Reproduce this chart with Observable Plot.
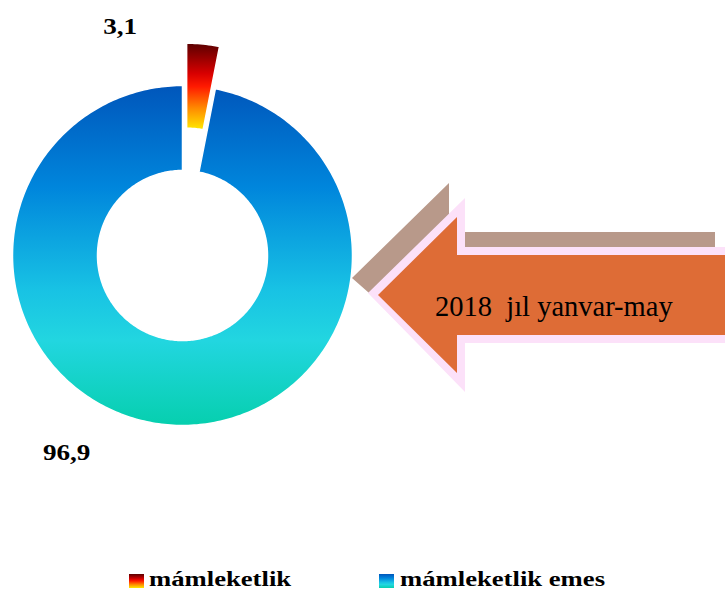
<!DOCTYPE html>
<html>
<head>
<meta charset="utf-8">
<script src="https://cdn.jsdelivr.net/npm/d3@7"></script>
<script src="https://cdn.jsdelivr.net/npm/@observablehq/plot@0.6"></script>
<style>
  body { margin: 0; background: #fff; }
  #wrap { position: relative; width: 725px; height: 590px; overflow: hidden; font-family: "Liberation Serif", "Times New Roman", serif; }
  #wrap > svg { display: block; }
  #arrow { position: absolute; left: 0; top: 0; pointer-events: none; }
</style>
</head>
<body>
<div id="wrap"></div>
<script>
// ---- data ----
const categories = ["mámleketlik", "mámleketlik emes"];
const values = [3.1, 96.9];
const valueLabels = ["3,1", "96,9"];
const periodLabel = "2018  jıl yanvar-may";

// ---- layout / style constants ----
const W = 725, H = 560, R = 170, CX = 182, CY = 255;
const innerRatio = 0.5;
const explode = [0.25, 0];
const gradRed = [[0, "#5a0000"], [0.35, "#d80000"], [0.5, "#ff1a00"], [0.75, "#ff8a00"], [1, "#ffea00"]];
const gradBlue = [[0, "#0056bb"], [0.3, "#0086dc"], [0.6, "#18c2e4"], [0.75, "#22d6e0"], [1, "#06cfae"]];
const gradIds = ["gRed", "gBlue"];
const grads = [gradRed, gradBlue];

// ---- pie layout from the data ----
const pie = d3.pie().sort(null).value(d => d)(values);
const pts = [];
const labelPts = [];
pie.forEach((p, i) => {
  const mid = (p.startAngle + p.endAngle) / 2;
  const ox = explode[i] * Math.sin(mid), oy = explode[i] * Math.cos(mid);
  const n = Math.max(6, Math.ceil((p.endAngle - p.startAngle) / (2 * Math.PI) * 360));
  for (let k = 0; k <= n; k++) {
    const a = p.startAngle + (p.endAngle - p.startAngle) * k / n;
    pts.push({slice: i, x: ox + Math.sin(a), y: oy + Math.cos(a)});
  }
  for (let k = n; k >= 0; k--) {
    const a = p.startAngle + (p.endAngle - p.startAngle) * k / n;
    pts.push({slice: i, x: ox + innerRatio * Math.sin(a), y: oy + innerRatio * Math.cos(a)});
  }
  labelPts.push({slice: i, x: ox + Math.sin(mid), y: oy + Math.cos(mid), text: valueLabels[i]});
});

function makeDefs(ids) {
  return () => {
    const defs = d3.create("svg:defs");
    grads.forEach((g, i) => {
      const lg = defs.append("linearGradient").attr("id", ids[i])
        .attr("x1", 0).attr("y1", 0).attr("x2", 0).attr("y2", 1);
      g.forEach(([o, c]) => lg.append("stop").attr("offset", o).attr("stop-color", c));
    });
    return defs.node();
  };
}

const labelFont = {fontFamily: "Liberation Serif", fontWeight: "bold", fontSize: 24, fill: "black", textAnchor: "start"};

const chart = Plot.plot({
  width: W, height: H, margin: 0,
  x: {domain: [-CX / R, (W - CX) / R], axis: null},
  y: {domain: [-(H - CY) / R, CY / R], axis: null},
  marks: [
    makeDefs(gradIds),
    Plot.line(pts.filter(d => d.slice === 1), {x: "x", y: "y", curve: "linear-closed", fill: "url(#gBlue)", stroke: "white", strokeWidth: 1.5}),
    Plot.line(pts.filter(d => d.slice === 0), {x: "x", y: "y", curve: "linear-closed", fill: "url(#gRed)", stroke: "white", strokeWidth: 1.5}),
    Plot.text(labelPts.filter(d => d.slice === 0), {x: "x", y: "y", text: "text", dx: -100, dy: -18, ...labelFont}),
    Plot.text(labelPts.filter(d => d.slice === 1), {x: "x", y: "y", text: "text", dx: -123, dy: 28, ...labelFont})
  ]
});
const wrap = document.getElementById("wrap");
wrap.appendChild(chart);
d3.select(chart).selectAll("text").each(function() {
  const w = this.getComputedTextLength();
  this.setAttribute("lengthAdjust", "spacingAndGlyphs");
  this.setAttribute("textLength", w * 1.13);
});

// ---- legend (below the chart) ----
const leg = d3.select(wrap).append("svg").attr("width", W).attr("height", 590 - H);
leg.append(makeDefs(["gRedL", "gBlueL"]));
const items = leg.selectAll("g").data(categories).join("g")
  .attr("transform", (d, i) => `translate(${129 + i * 250},0)`);
items.append("rect").attr("x", 0).attr("y", 14).attr("width", 15).attr("height", 14)
  .attr("fill", (d, i) => `url(#${["gRedL", "gBlueL"][i]})`);
items.append("text").attr("x", (d, i) => 20 + i).attr("y", 25.5)
  .attr("font-family", "Liberation Serif").attr("font-weight", "bold").attr("font-size", 20.5)
  .text(d => d)
  .each(function() {
    const w = this.getComputedTextLength();
    this.setAttribute("lengthAdjust", "spacingAndGlyphs");
    this.setAttribute("textLength", w * 1.3);
  });

// ---- arrow annotation ----
const arrow = d3.select(wrap).append("svg").attr("id", "arrow").attr("width", W).attr("height", 590);
arrow.append("polygon").attr("fill", "#b8998a")
  .attr("points", "352,278 449,183 449,232 715,232 715,300 377,300");
arrow.append("polygon").attr("fill", "#fce1f9")
  .attr("points", "368,293 465,198 465,247 725,247 725,343 465,343 465,392");
arrow.append("polygon").attr("fill", "#de6c36")
  .attr("points", "378,295 457,217 457,255 725,255 725,335 457,335 457,373");
arrow.append("text").attr("x", 435).attr("y", 316)
  .attr("font-family", "Liberation Serif").attr("font-size", 28.5).attr("fill", "black")
  .attr("xml:space", "preserve").style("white-space", "pre")
  .text(periodLabel);
</script>
</body>
</html>
